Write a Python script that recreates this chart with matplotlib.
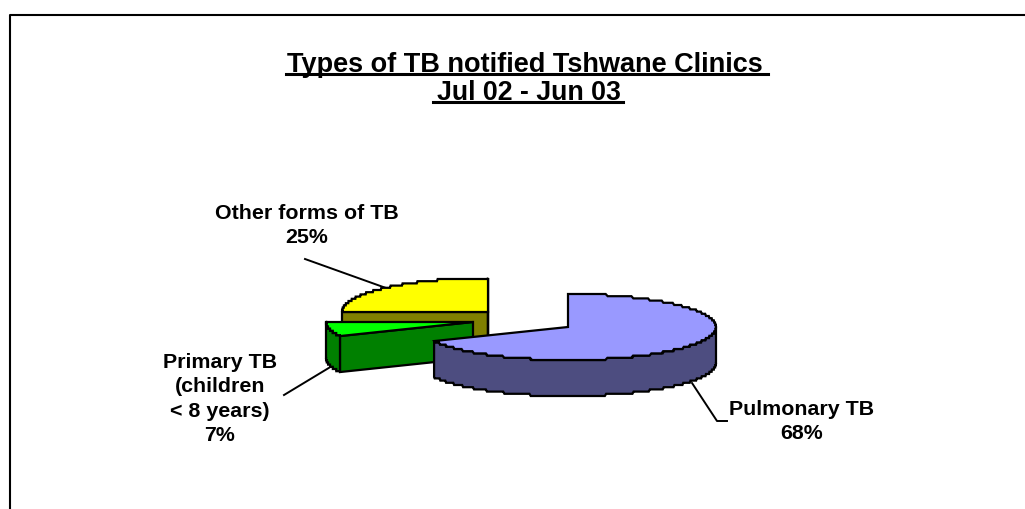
import numpy as np
import matplotlib
matplotlib.use('Agg')
import matplotlib.pyplot as plt

plt.rcParams['font.family'] = ['Liberation Sans', 'DejaVu Sans']

categories = ['Pulmonary TB', 'Primary TB\n(children\n< 8 years)', 'Other forms of TB']
shares = [68, 7, 25]
top_colors = ['#9999ff', '#00ff00', '#ffff00']
side_colors = ['#4d4d80', '#008000', '#808000']
title_lines = ['Types of TB notified Tshwane Clinics', 'Jul 02 - Jun 03']

# slice centres after explosion, in pixels of the picture
centres = [(568, 328), (473, 323), (488, 313)]
radii = [(148, 33), (147, 33), (146, 34)]
depth = 36
edge_w = 1.6
step = 2.2

label_pos = [(802, 421.5), (220, 399), (307, 225.5)]
leaders = [
    [(692, 384), (717, 422), (727, 422)],
    [(284, 396), (332, 367)],
    [(305, 260), (386, 289)],
]


def rim(c, r, a0, a1, n=300):
    # angles clockwise from 12 o'clock, flattened like the 3d pie
    a = np.radians(np.linspace(a0, a1, n))
    y = c[1] - r[1] * np.cos(a)
    # the reference rim is stair-stepped
    y[1:-1] = c[1] + np.round((y[1:-1] - c[1]) / step) * step
    return np.column_stack([c[0] + r[0] * np.sin(a), y])


def face(pts, col, z):
    ax.fill(pts[:, 0], pts[:, 1], facecolor=col, edgecolor='black', lw=edge_w, joinstyle='miter', zorder=z)


fig = plt.figure(figsize=(10.25, 5.1), dpi=100)
ax = fig.add_axes([0, 0, 1, 1])
ax.set_xlim(0, 1025)
ax.set_ylim(510, 0)
ax.axis('off')

# chart frame runs off the right and bottom of the picture
ax.plot([9.5, 9.5, 1025], [510, 15.5, 15.5], color='black', lw=1.5, zorder=1)

angles = np.concatenate([[0], np.cumsum(shares) / np.sum(shares) * 360])
draw_order = [2, 1, 0]
down = np.array([0, depth])

for z, i in enumerate(draw_order):
    a0, a1 = angles[i], angles[i + 1]
    c = np.array(centres[i], dtype=float)
    r = radii[i]
    base = 2 + z * 3
    edge = rim(c, r, a0, a1)

    # cut faces
    if i == 2:
        wall = np.array([edge[0], c, c + down, edge[0] + down])
        face(wall, side_colors[i], base)
        wall = np.array([c, edge[-1], edge[-1] + down, c + down])
        face(wall, side_colors[i], base)
    if i == 1:
        wall = np.array([c, edge[0], edge[0] + down, c + down])
        face(wall, side_colors[i], base)

    # outer wall, only the part facing the viewer
    front0, front1 = max(a0, 90), min(a1, 270)
    if front1 > front0:
        front = rim(c, r, front0, front1)
        wall = np.vstack([front, (front + down)[::-1]])
        face(wall, side_colors[i], base + 1)

    top = np.vstack([[c], edge])
    face(top, top_colors[i], base + 2)

for pts in leaders:
    pts = np.array(pts)
    ax.plot(pts[:, 0], pts[:, 1], color='black', lw=1.4, zorder=1)

ax.text(525, 72, title_lines[0], ha='center', va='baseline', fontsize=19.5, fontweight='bold')
ax.text(528.5, 100, title_lines[1], ha='center', va='baseline', fontsize=19.3, fontweight='bold')
ax.plot([286, 768], [74.5, 74.5], color='black', lw=2.2, zorder=1)
ax.plot([433, 623], [102.5, 102.5], color='black', lw=2.2, zorder=1)

for name, share, pos in zip(categories, shares, label_pos):
    ax.text(pos[0], pos[1], f'{name}\n{share}%', ha='center', va='center', fontsize=15.4,
            fontweight='bold', linespacing=1.36)

fig.savefig('out.png', dpi=100, facecolor='white')
